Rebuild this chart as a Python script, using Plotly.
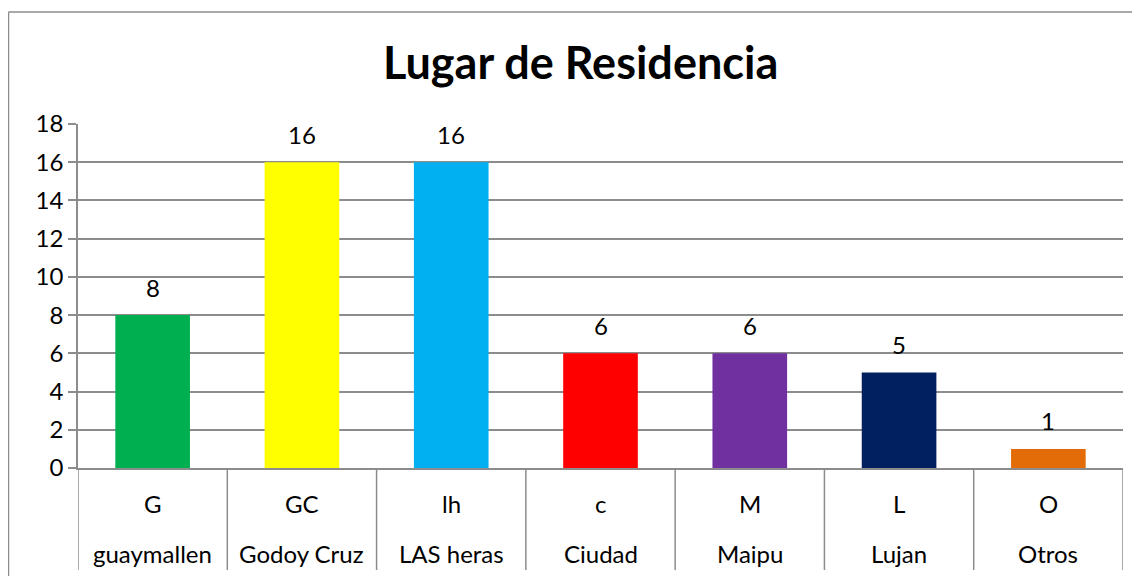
import plotly.graph_objects as go

codes = ["G", "GC", "lh", "c", "M", "L", "O"]
names = ["guaymallen", "Godoy Cruz", "LAS heras", "Ciudad", "Maipu", "Lujan", "Otros"]
values = [8, 16, 16, 6, 6, 5, 1]
colors = ["#00B050", "#FFFF00", "#00B0F0", "#FF0000", "#7030A0", "#002060", "#E36C09"]
yticks = [0, 2, 4, 6, 8, 10, 12, 14, 16, 18]

FONT = "Lato, Calibri, Carlito, sans-serif"
GRID = "#8C8C8C"
FS = 24

# page body has an 8px margin; work in figure coordinates
OFF = 8
W, H = 1140 - OFF, 576 - OFF
L, T = 78 - OFF, 124 - OFF
R = W - (1123 - OFF)
B = H - (468 - OFF)
ph = H - T - B
pw = W - L - R

x = list(range(len(codes)))

fig = go.Figure(go.Bar(
    x=x, y=values, marker=dict(color=colors, line=dict(width=0)),
    width=0.5, hoverinfo="skip",
))

ann = []
for xi, v in zip(x, values):
    ann.append(dict(x=xi, y=v, xref="x", yref="y", text=str(v), showarrow=False,
                    yshift=28, yanchor="middle", font=dict(size=FS, color="black", family=FONT)))
for xi, c, n in zip(x, codes, names):
    ann.append(dict(x=xi, y=-35 / ph, xref="x", yref="paper", text=c, showarrow=False,
                    yanchor="middle", font=dict(size=FS, color="black", family=FONT)))
    ann.append(dict(x=xi, y=-85 / ph, xref="x", yref="paper", text=n, showarrow=False,
                    yanchor="middle", font=dict(size=FS, color="black", family=FONT)))
ann.append(dict(x=(580 - OFF - L) / pw, y=(H - B - (62 - OFF)) / ph, xref="paper", yref="paper",
                text="<b>Lugar de Residencia</b>", showarrow=False,
                xanchor="center", yanchor="middle",
                font=dict(size=45, color="black", family=FONT)))

shapes = []
for i in range(len(codes) + 1):
    shapes.append(dict(type="line", xref="x", yref="paper", x0=i - 0.5, x1=i - 0.5,
                       y0=0, y1=-(570 - 468) / ph, line=dict(color=GRID, width=1.5)))
# outer chart border: left and top edges (the rest lies outside the window)
bx = (8.5 - OFF - L) / pw
by = (H - B - (12 - OFF)) / ph
shapes.append(dict(type="line", xref="paper", yref="paper", x0=bx, x1=bx, y0=-0.6, y1=by,
                   line=dict(color=GRID, width=1.5)))
shapes.append(dict(type="line", xref="paper", yref="paper", x0=bx, x1=1.2, y0=by, y1=by,
                   line=dict(color=GRID, width=1.5)))

fig.update_layout(
    width=W, height=H,
    margin=dict(l=L, r=R, t=T, b=B, pad=0),
    paper_bgcolor="white", plot_bgcolor="white",
    showlegend=False,
    font=dict(family=FONT, size=FS, color="black"),
    xaxis=dict(range=[-0.5, len(codes) - 0.5], showticklabels=False, showgrid=False,
               zeroline=False, showline=True, linecolor=GRID, linewidth=1.5, ticks=""),
    yaxis=dict(range=[0, 18], tickvals=yticks, ticktext=[str(t) for t in yticks],
               showgrid=True, gridcolor=GRID, gridwidth=1.5, zeroline=False,
               showline=True, linecolor=GRID, linewidth=1.5,
               ticks="outside", ticklen=8, tickcolor=GRID, tickwidth=1.5,
               tickfont=dict(size=FS, family=FONT, color="black")),
    annotations=ann, shapes=shapes,
)

fig.write_html("out.html")
